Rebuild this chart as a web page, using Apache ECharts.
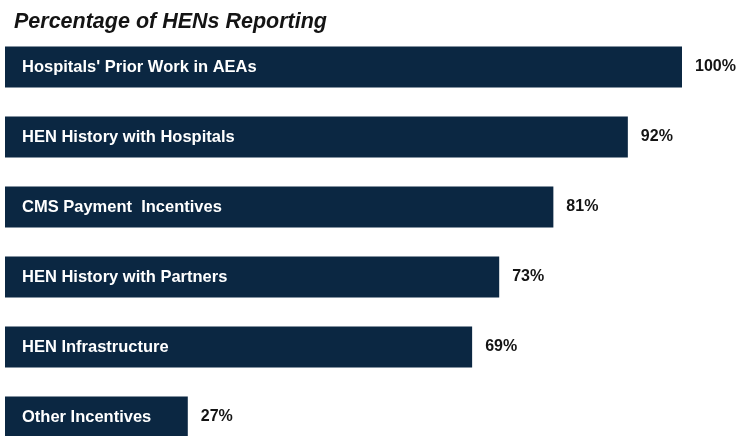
<!DOCTYPE html>
<html>
<head>
<meta charset="utf-8">
<script src="https://cdn.jsdelivr.net/npm/echarts@6/dist/echarts.min.js"></script>
<style>
    html, body { margin: 0; padding: 0; background: #fff; overflow: hidden; }
    #chart { width: 739px; height: 470px; }
</style>
</head>
<body>
<div id="chart"></div>
<script>
var categories = [
    "Hospitals' Prior Work in AEAs",
    'HEN History with Hospitals',
    'CMS Payment  Incentives',
    'HEN History with Partners',
    'HEN Infrastructure',
    'Other Incentives'
];
var values = [100, 92, 81, 73, 69, 27];

var option = {
    animation: false,
    title: {
        text: 'Percentage of HENs Reporting',
        left: 9,
        top: 6,
        textStyle: {
            fontFamily: 'Liberation Sans, Arial',
            fontStyle: 'italic',
            fontWeight: 'bold',
            fontSize: 21.5,
            color: '#141414'
        }
    },
    grid: {
        left: 5,
        width: 677,
        top: 32,
        height: 420,
        containLabel: false
    },
    xAxis: {
        type: 'value',
        min: 0,
        max: 100,
        show: false
    },
    yAxis: {
        type: 'category',
        data: categories,
        inverse: true,
        axisLine: { show: false },
        axisTick: { show: false },
        z: 10,
        axisLabel: {
            inside: true,
            margin: 17,
            color: '#ffffff',
            fontFamily: 'Liberation Sans, Arial',
            fontWeight: 'bold',
            fontSize: 16.5
        }
    },
    series: [
        {
            type: 'bar',
            data: values,
            barWidth: 41,
            itemStyle: { color: '#0b2742' },
            label: {
                show: true,
                position: 'right',
                distance: 13,
                formatter: '{c}%',
                color: '#141414',
                fontFamily: 'Liberation Sans, Arial',
                fontWeight: 'bold',
                fontSize: 16
            }
        }
    ]
};

var chart = echarts.init(document.getElementById('chart'));
chart.setOption(option);
</script>
</body>
</html>
